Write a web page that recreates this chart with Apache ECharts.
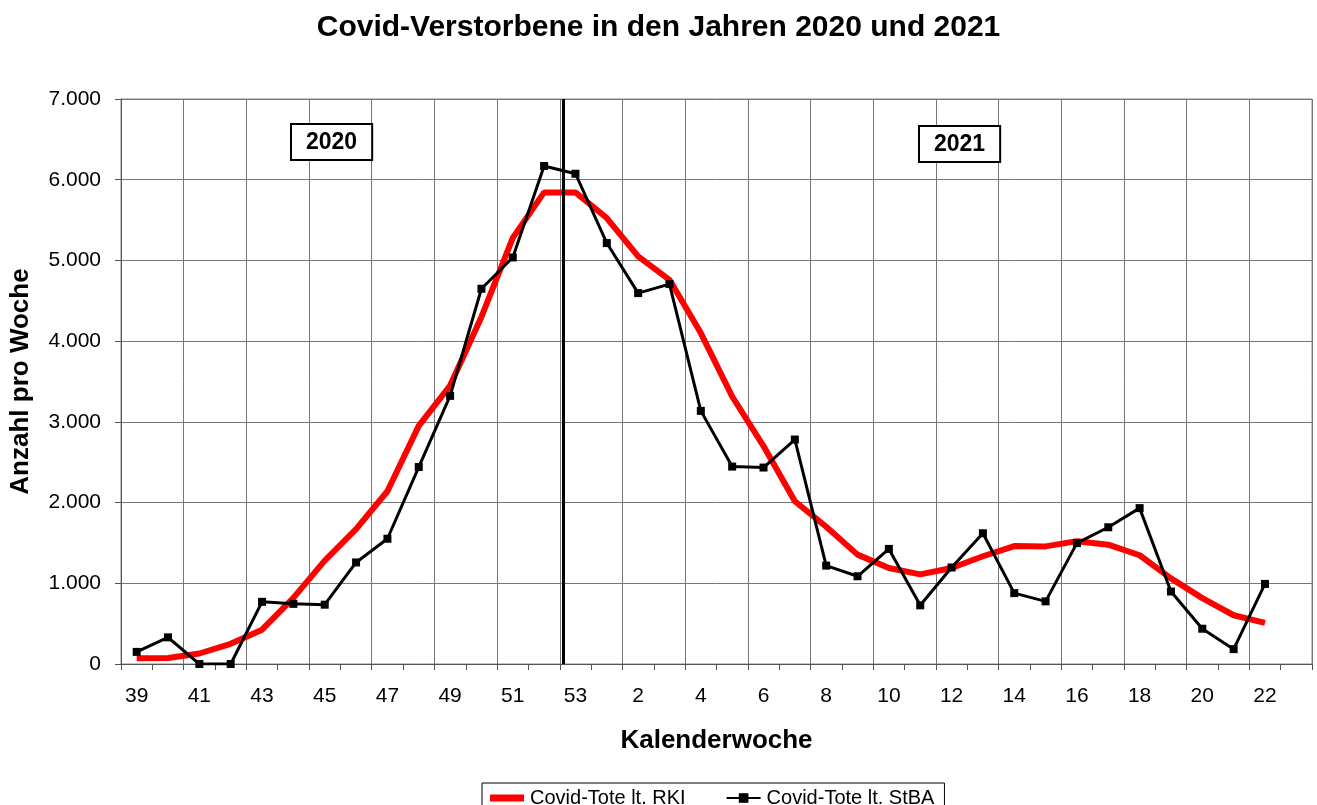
<!DOCTYPE html>
<html>
<head>
<meta charset="utf-8">
<script src="https://cdn.jsdelivr.net/npm/echarts@6/dist/echarts.min.js"></script>
<style>
html,body{margin:0;padding:0;background:#fff;}
#chart{width:1317px;height:805px;}
</style>
</head>
<body>
<div id="chart"></div>
<script>
// Kalenderwochen: 39–53 (2020), 1–23 (2021)
const weeks = ['39','40','41','42','43','44','45','46','47','48','49','50','51','52','53',
  '1','2','3','4','5','6','7','8','9','10','11','12','13','14','15','16','17','18','19','20','21','22','23'];

const rkiDeaths = [70, 75, 130, 250, 425, 820, 1280, 1670, 2140, 2950, 3450, 4300, 5280, 5843, 5843,
  5525, 5050, 4760, 4100, 3314, 2700, 2017, 1700, 1355, 1190, 1110, 1190, 1335, 1461, 1457, 1522, 1478, 1347, 1061, 816, 604, 510, null];

const stbaDeaths = [150, 330, 0, 0, 770, 745, 735, 1258, 1552, 2440, 3322, 4649, 5037, 6170, 6074,
  5215, 4595, 4707, 3136, 2446, 2434, 2781, 1219, 1087, 1426, 727, 1196, 1620, 878, 776, 1498, 1694, 1931, 898, 437, 184, 992, null];

const yTicks = [0, 1000, 2000, 3000, 4000, 5000, 6000, 7000];
const yearBoundary = [14.1]; // Trennlinie zwischen 2020 und 2021 (Kategorie-Index)
const yearLabels = ['2020', '2021'];
const seriesNames = ['Covid-Tote lt. RKI', 'Covid-Tote lt. StBA'];

const FONT = 'Liberation Sans, Arial, sans-serif';

const chart = echarts.init(document.getElementById('chart'), null, {renderer: 'canvas'});

chart.setOption({
  animation: false,
  backgroundColor: '#fff',
  title: {
    text: 'Covid-Verstorbene in den Jahren 2020 und 2021',
    left: 'center',
    top: 8,
    textStyle: {fontFamily: FONT, fontWeight: 'bold', fontSize: 30, color: '#000'}
  },
  legend: {
    top: 783,
    left: 482,
    itemWidth: 34,
    itemHeight: 12,
    itemGap: 40,
    padding: [5, 10, 5, 8],
    borderColor: '#000',
    borderWidth: 1,
    textStyle: {fontFamily: FONT, fontSize: 20, color: '#000', padding: [0, 0, 0, 1]},
    data: [
      {name: seriesNames[0], icon: 'path://M0,0 L34,0 L34,7 L0,7 Z', itemStyle: {color: '#ff0000'}},
      {name: seriesNames[1]}
    ]
  },
  grid: {
    left: 121, right: 5, top: 99, bottom: 141,
    show: true, borderColor: '#888', borderWidth: 1
  },
  xAxis: [{
    type: 'category',
    data: weeks,
    boundaryGap: true,
    name: 'Kalenderwoche',
    nameLocation: 'middle',
    nameGap: 64,
    nameTextStyle: {fontFamily: FONT, fontWeight: 'bold', fontSize: 26, color: '#000'},
    axisLine: {lineStyle: {color: '#555', width: 1}},
    axisTick: {show: true, interval: 0, length: 6, lineStyle: {color: '#555'}},
    axisLabel: {interval: 1, fontFamily: FONT, fontSize: 21, color: '#000', margin: 22},
    splitLine: {show: true, interval: 1, lineStyle: {color: '#777', width: 1}}
  }, {
    type: 'value',
    min: 0,
    max: weeks.length,
    show: false
  }],
  yAxis: {
    type: 'value',
    min: yTicks[0],
    max: yTicks[yTicks.length - 1],
    interval: 1000,
    name: 'Anzahl pro Woche',
    nameLocation: 'middle',
    nameGap: 87,
    nameTextStyle: {fontFamily: FONT, fontWeight: 'bold', fontSize: 26, color: '#000'},
    axisLine: {show: true, lineStyle: {color: '#555', width: 1}},
    axisTick: {show: true, length: 6, lineStyle: {color: '#555'}},
    axisLabel: {
      fontFamily: FONT, fontSize: 21, color: '#000', margin: 20,
      formatter: v => v === 0 ? '0' : (v / 1000).toFixed(0) + '.000'
    },
    splitLine: {show: true, lineStyle: {color: '#777', width: 1}}
  },
  series: [{
    name: seriesNames[0],
    type: 'line',
    data: rkiDeaths,
    symbol: 'none',
    color: '#ff0000',
    lineStyle: {color: '#ff0000', width: 6},
    z: 3
  }, {
    name: seriesNames[1],
    type: 'line',
    data: stbaDeaths,
    symbol: 'rect',
    symbolSize: 8,
    color: '#000',
    itemStyle: {color: '#000'},
    lineStyle: {color: '#000', width: 3},
    z: 4
  }, {
    name: 'boundary',
    type: 'line',
    xAxisIndex: 1,
    data: [],
    silent: true,
    markLine: {
      silent: true,
      symbol: 'none',
      label: {show: false},
      lineStyle: {color: '#000', width: 3, type: 'solid'},
      data: yearBoundary.map(v => ({xAxis: v}))
    }
  }],
  graphic: [{
    type: 'text',
    left: 290,
    top: 123,
    z: 10,
    style: {
      text: yearLabels[0],
      font: 'bold 23px ' + FONT,
      fill: '#000',
      backgroundColor: '#fff',
      borderColor: '#000',
      borderWidth: 2,
      padding: [6, 14, 5, 14]
    }
  }, {
    type: 'text',
    left: 918,
    top: 125,
    z: 10,
    style: {
      text: yearLabels[1],
      font: 'bold 23px ' + FONT,
      fill: '#000',
      backgroundColor: '#fff',
      borderColor: '#000',
      borderWidth: 2,
      padding: [6, 14, 5, 14]
    }
  }]
});
</script>
</body>
</html>
